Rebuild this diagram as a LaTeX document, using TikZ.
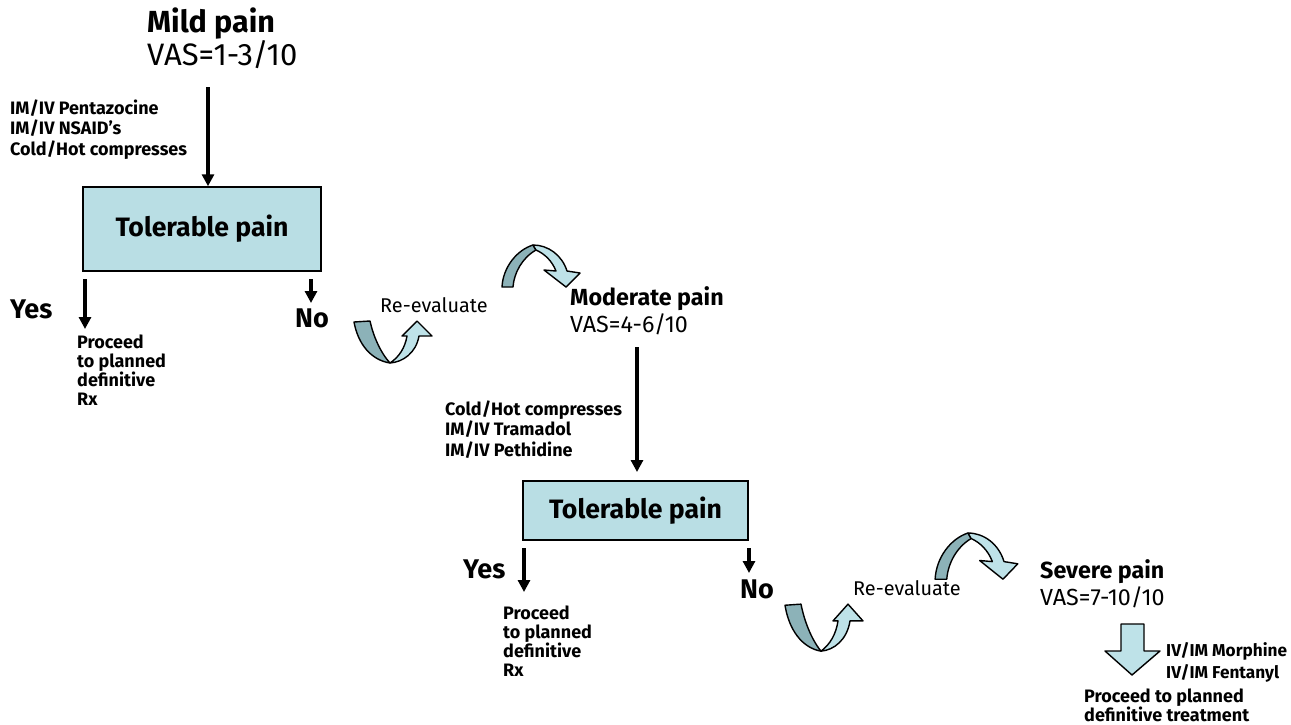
\documentclass[tikz,border=0pt]{standalone}
\usepackage{fontspec}
\setmainfont{Fira Sans}
\usetikzlibrary{arrows.meta}
\definecolor{boxfill}{RGB}{185,222,228}
\definecolor{arcdark}{RGB}{140,178,184}
\definecolor{arclight}{RGB}{190,226,232}
\tikzset{
  txt/.style={inner sep=0pt, anchor=base west},
  title/.style={txt, font=\fontsize{30.5}{34}\selectfont\bfseries},
  vas/.style={txt, font=\fontsize{31}{34}\selectfont},
  midtitle/.style={txt, font=\fontsize{23.3}{27}\selectfont\bfseries},
  midvas/.style={txt, font=\fontsize{23.3}{27}\selectfont},
  drug/.style={txt, align=left, font=\fontsize{18}{20.5}\selectfont\bfseries},
  smalldrug/.style={txt, align=left, font=\fontsize{17.2}{22}\selectfont\bfseries},
  proc/.style={txt, align=left, font=\fontsize{18}{19}\selectfont\bfseries},
  yesno/.style={txt, font=\fontsize{27}{30}\selectfont\bfseries},
  reeval/.style={txt, font=\fontsize{19.9}{23}\selectfont},
  tolbox/.style={draw=black, line width=1.5pt, fill=boxfill, inner sep=0pt,
    font=\fontsize{26.6}{30}\selectfont\bfseries},
  thinarrow/.style={line width=3.4pt, -{Triangle[width=12pt,length=12pt]}},
  arcedge/.style={draw=black, line width=1.4pt, line join=round},
  pics/uturn/.style={code={
    \path[arcedge, fill=arcdark] (1,2) -- (17,1) .. controls (20,15) and (27,32) .. (37,43)
      .. controls (18,40) and (5,24) .. (1,2) -- cycle;
    \path[arcedge, fill=arclight] (37,43) .. controls (50,42) and (63,33) .. (66,16)
      -- (79,16) -- (64,1) -- (49,16) -- (54,16) .. controls (52,28) and (46,37) .. (37,43) -- cycle;
  }},
  pics/overarc/.style={code={
    \path[arcedge, fill=arcdark] (2,42) -- (13,42) .. controls (14,28) and (22,13) .. (36,5)
      -- (33,0) .. controls (17,5) and (3,22) .. (2,42) -- cycle;
    \path[arcedge, fill=arclight] (33,0) .. controls (48,0) and (62,10) .. (67,26)
      -- (80,28) -- (66,42) -- (44,25) -- (56,26) .. controls (52,16) and (45,9) .. (36,5) -- cycle;
  }},
}
\begin{document}
\begin{tikzpicture}[x=1pt, y=-1pt]
\path[fill=white, use as bounding box] (0,0) rectangle (1291,724);

% --- first stage
\node[title] (mild) at (147,32) {Mild pain};
\node[vas] (vas1) at (147,65) {VAS=1-3/10};
\node[drug] (drugs1) at (10,155) {IM/IV Pentazocine\\IM/IV NSAID’s\\Cold/Hot compresses};
\node[tolbox, minimum width=238pt, minimum height=84pt] (box1) at (202,229) {Tolerable pain};
\coordinate (a1s) at (208,87);
\draw[thinarrow] (a1s) -- (box1.north -| a1s);

\node[yesno] (yes1) at (10,318) {Yes};
\node[yesno] (no1) at (295,327) {No};
\coordinate (y1s) at (85,279);
\coordinate (y1e) at (85,329);
\draw[thinarrow] (y1s) -- (y1e);
\coordinate (n1s) at (311,279);
\coordinate (n1e) at (311,303);
\draw[thinarrow] (n1s) -- (n1e);
\node[proc] (proc1) at (77,405) {Proceed\\to planned\\definitive\\Rx};

\pic at (353,320) {uturn};
\node[reeval] (re1) at (380,312) {Re-evaluate};
\pic at (500,245) {overarc};

% --- second stage
\node[midtitle] (mod) at (570,305) {Moderate pain};
\node[midvas] (vas2) at (570,332) {VAS=4-6/10};
\node[drug] (drugs2) at (445,456) {Cold/Hot compresses\\IM/IV Tramadol\\IM/IV Pethidine};
\node[tolbox, minimum width=225pt, minimum height=59pt] (box2) at (635.5,510.5) {Tolerable pain};
\coordinate (a2s) at (637,347);
\coordinate (a2e) at (637,472);
\draw[thinarrow] (a2s) -- (a2e);

\node[yesno] (yes2) at (463,578) {Yes};
\node[yesno] (no2) at (740,598) {No};
\coordinate (y2s) at (524,548);
\coordinate (y2e) at (524,592);
\draw[thinarrow] (y2s) -- (y2e);
\coordinate (n2s) at (749,548);
\coordinate (n2e) at (749,573);
\draw[thinarrow] (n2s) -- (n2e);
\node[proc] (proc2) at (503,676) {Proceed\\to planned\\definitive\\Rx};

\pic[yscale=1.12] at (784,603) {uturn};
\node[reeval] (re2) at (853,595) {Re-evaluate};
\pic[xscale=1.06, yscale=1.1] at (933,533) {overarc};

% --- third stage
\node[midtitle] (sev) at (1040,578) {Severe pain};
\node[midvas] (vas3) at (1040,605) {VAS=7-10/10};
\path[arcedge, fill=arclight] (1121,624) -- (1144,624) -- (1144,651) -- (1160,651)
  -- (1132,675) -- (1105,651) -- (1121,651) -- cycle;
\node[smalldrug] (drugs3) at (1166,678) {IV/IM Morphine\\IV/IM Fentanyl};
\node[proc] (proc3) at (1084,721) {Proceed to planned\\definitive treatment};
\end{tikzpicture}
\end{document}
